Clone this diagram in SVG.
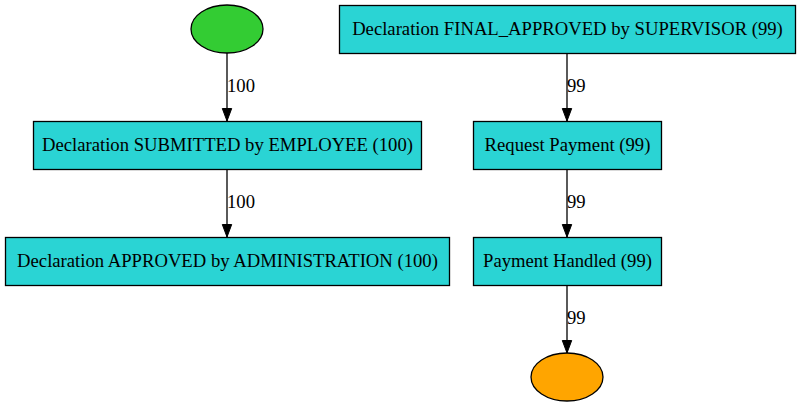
<svg xmlns="http://www.w3.org/2000/svg" width="800" height="407" viewBox="0 0 800 407">
<defs>
<marker id="ah" markerWidth="14" markerHeight="12" refX="13" refY="6" orient="auto" markerUnits="userSpaceOnUse">
<path d="M0.5,1.3 L13,6 L0.5,10.7 Z" fill="#000" stroke="#000" stroke-width="1"/>
</marker>
<style>
.box{fill:#2ad4d4;stroke:#000;stroke-width:1.3}
.t{font-size:18.67px;fill:#000;text-anchor:middle}
.l{font-size:18.67px;fill:#000}
.e{stroke:#000;stroke-width:1.3;fill:none;marker-end:url(#ah)}
</style>
</defs>
<rect width="800" height="407" fill="#fff"/>
<g id="edges" font-family="Liberation Serif, DejaVu Serif, Times New Roman, serif">
<line class="e" x1="227" y1="53" x2="227" y2="121"/>
<text class="l" x="227" y="92">100</text>
<line class="e" x1="227" y1="169" x2="227" y2="237"/>
<text class="l" x="227" y="208">100</text>
<line class="e" x1="567" y1="53" x2="567" y2="121"/>
<text class="l" x="567" y="92">99</text>
<line class="e" x1="567" y1="169" x2="567" y2="237"/>
<text class="l" x="567" y="208">99</text>
<line class="e" x1="567" y1="285" x2="567" y2="353"/>
<text class="l" x="567" y="324">99</text>
</g>
<g font-family="Liberation Serif, DejaVu Serif, Times New Roman, serif">
<g id="start"><ellipse cx="227" cy="29" rx="36" ry="24" fill="#33cc33" stroke="#000" stroke-width="1.3"/></g>
<g id="final_approved"><rect class="box" x="339.5" y="5.5" width="456" height="48"/><text class="t" x="567.5" y="35">Declaration FINAL_APPROVED by SUPERVISOR (99)</text></g>
<g id="submitted"><rect class="box" x="33.5" y="121.5" width="388" height="48"/><text class="t" x="227.5" y="151">Declaration SUBMITTED by EMPLOYEE (100)</text></g>
<g id="approved"><rect class="box" x="5.5" y="237.5" width="444" height="48"/><text class="t" x="227.5" y="267">Declaration APPROVED by ADMINISTRATION (100)</text></g>
<g id="request_payment"><rect class="box" x="473.5" y="121.5" width="188" height="48"/><text class="t" x="567.5" y="151">Request Payment (99)</text></g>
<g id="payment_handled"><rect class="box" x="473.5" y="237.5" width="188" height="48"/><text class="t" x="567.5" y="267">Payment Handled (99)</text></g>
<g id="end"><ellipse cx="567" cy="377" rx="36" ry="24" fill="#ffa500" stroke="#000" stroke-width="1.3"/></g>
</g>
</svg>
